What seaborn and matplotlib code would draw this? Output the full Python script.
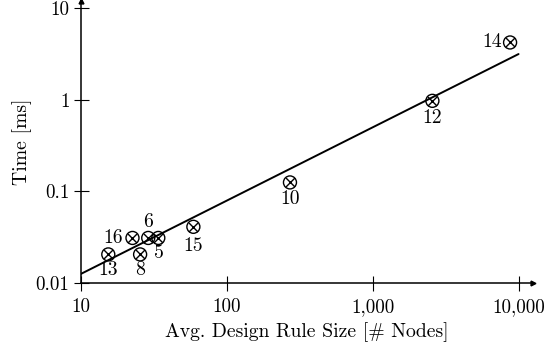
import numpy as np
import pandas as pd
import matplotlib
matplotlib.use("Agg")
import matplotlib.pyplot as plt
import seaborn as sns

# ---- data ----
rule_ids = ["13", "16", "8", "6", "5", "15", "10", "12", "14"]
avg_rule_size = [15.5, 22.7, 25.6, 29.1, 34.1, 59.3, 272, 2570, 8750]
time_ms = [0.0205, 0.031, 0.0205, 0.031, 0.031, 0.041, 0.125, 0.97, 4.2]
# label placement (dx, dy in pixels relative to the marker)
label_offsets = [(0, -16), (-19, 0), (0, -16), (0, 16), (1, -15),
                 (0, -19), (0, -17), (0, -17), (-18, 0)]
# trend line
trend_x = [10, 10000]
trend_y = [0.0125, 3.14]

x_ticks = [10, 100, 1000, 10000]
x_ticklabels = ["10", "100", "1,000", "10,000"]
y_ticks = [0.01, 0.1, 1, 10]
y_ticklabels = ["0.01", "0.1", "1", "10"]

sns.set_theme(style="white")
plt.rcParams["font.family"] = ["cmr10", "DejaVu Serif"]
plt.rcParams["mathtext.fontset"] = "cm"
plt.rcParams["axes.formatter.use_mathtext"] = True
plt.rcParams["axes.unicode_minus"] = False

FS = 14.2
TICK_FS = 13.6
px = 0.72  # points per pixel at dpi 100

fig = plt.figure(figsize=(5.44, 3.51), dpi=100)
ax = fig.add_axes([80.5 / 544, (351 - 283) / 351, (533 - 80.5) / 544, (283 - 1) / 351])

df = pd.DataFrame({"size": avg_rule_size, "time": time_ms, "id": rule_ids})
tdf = pd.DataFrame({"x": trend_x, "y": trend_y})

sns.lineplot(data=tdf, x="x", y="y", ax=ax, color="black", lw=1.4, zorder=2)
sns.scatterplot(data=df, x="size", y="time", ax=ax, marker="o", s=(13 * px) ** 2,
                facecolor="none", edgecolor="black", linewidth=1.0, zorder=3)
sns.scatterplot(data=df, x="size", y="time", ax=ax, marker="x", s=(9 * px) ** 2,
                color="black", linewidth=1.0, zorder=3)
for coll in ax.collections:
    coll.set_clip_on(False)

for lab, xv, yv, (dx, dy) in zip(rule_ids, avg_rule_size, time_ms, label_offsets):
    ax.annotate(lab, (xv, yv), xytext=(dx * px, dy * px), textcoords="offset points",
                ha="center", va="center", fontsize=FS, color="black")

ax.set_xscale("log")
ax.set_yscale("log")
ax.set_xlim(10, 12560)
ax.set_ylim(0.01, 11.9)
ax.set_xticks(x_ticks)
ax.set_xticklabels(x_ticklabels)
ax.set_yticks(y_ticks)
ax.set_yticklabels(y_ticklabels)
ax.minorticks_off()
ax.tick_params(axis="both", which="major", direction="inout", length=15 * px,
               width=0.8, color="black", labelsize=TICK_FS, labelcolor="black",
               bottom=True, left=True)
ax.tick_params(axis="x", pad=5.5)
ax.tick_params(axis="y", pad=2.5)
ax.tick_params(axis="both", which="minor", length=0)

for side in ["top", "right"]:
    ax.spines[side].set_visible(False)
for side in ["left", "bottom"]:
    ax.spines[side].set_color("black")
    ax.spines[side].set_linewidth(1.1)

# arrow tips
ax.plot(1, 0, ">", transform=ax.transAxes, color="black", ms=3.5, clip_on=False)
ax.plot(0, 1, "^", transform=ax.transAxes, color="black", ms=3.5, clip_on=False)

ax.set_xlabel("Avg. Design Rule Size [# Nodes]", fontsize=FS, color="black", labelpad=4.5)
ax.set_ylabel("Time [ms]", fontsize=FS, color="black", labelpad=2.5)

fig.savefig("out.png", dpi=100)
